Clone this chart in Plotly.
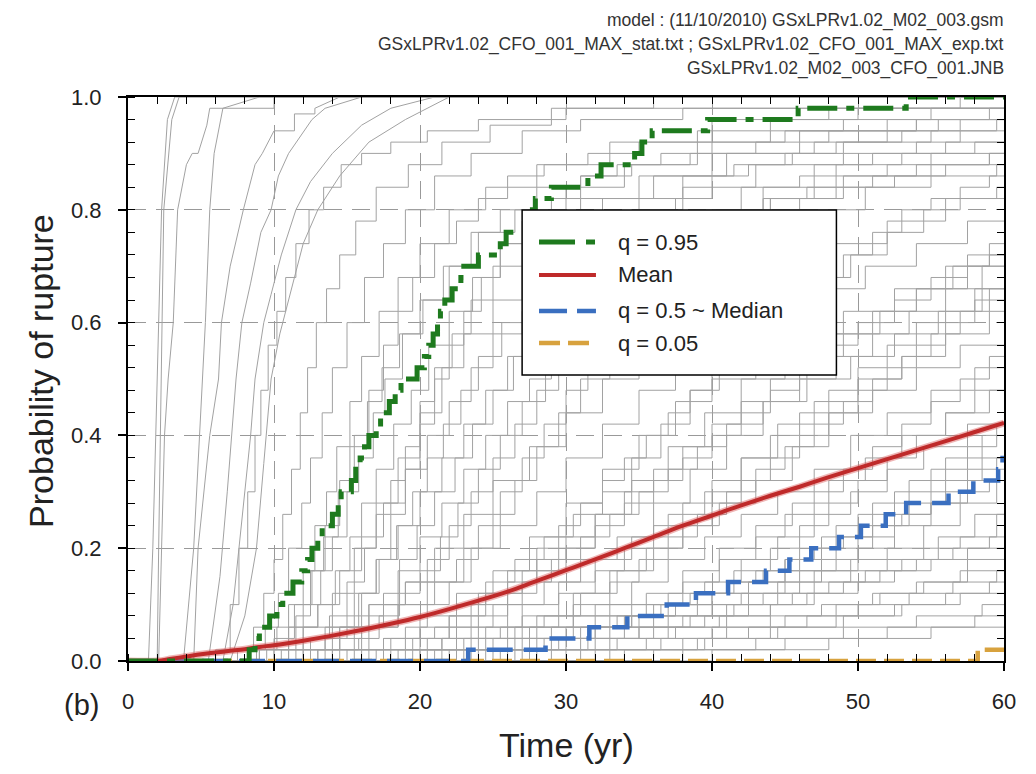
import plotly.graph_objects as go

# ---------------- summary curves ----------------
green_t = [0, 8.3, 8.7, 9.0, 9.7, 10.2, 10.6, 11.3, 11.9, 12.3, 12.6, 13.0, 13.3, 14.0, 14.4, 14.6,
           15.3, 15.6, 15.9, 16.2, 16.5, 17.0, 17.3, 17.9, 18.3, 18.7, 19.8, 20.3, 20.6, 20.9, 21.2,
           21.4, 21.7, 22.2, 22.8, 23.0, 24.0, 25.5, 25.9, 27.5, 27.7, 27.9, 29.0, 31.5, 32.4, 34.7,
           35.2, 35.9, 39.7, 45.9, 53.3, 60]
green_p = [0, 0.02, 0.04, 0.06, 0.08, 0.10, 0.12, 0.14, 0.16, 0.18, 0.20, 0.22, 0.24, 0.26, 0.28, 0.30,
           0.32, 0.34, 0.36, 0.38, 0.40, 0.42, 0.44, 0.46, 0.48, 0.50, 0.52, 0.54, 0.56, 0.58, 0.60,
           0.62, 0.64, 0.66, 0.68, 0.70, 0.72, 0.74, 0.76, 0.78, 0.80, 0.82, 0.84, 0.86, 0.88, 0.90,
           0.92, 0.94, 0.96, 0.98, 1.0, 1.0]

mean_t = [2, 3, 4, 5, 6, 7, 8, 9, 10, 12, 14, 16, 18, 20, 22, 24, 26, 28, 30, 32, 34, 36, 38, 40,
          42, 44, 46, 48, 50, 52, 54, 56, 58, 60]
mean_p = [0, 0.004, 0.008, 0.012, 0.015, 0.018, 0.021, 0.025, 0.028, 0.036, 0.045, 0.055, 0.066,
          0.078, 0.092, 0.107, 0.123, 0.142, 0.161, 0.180, 0.200, 0.220, 0.240, 0.258, 0.276,
          0.293, 0.309, 0.326, 0.342, 0.358, 0.374, 0.390, 0.406, 0.422]

median_t = [0, 23.3, 28.6, 31.6, 34.2, 36.9, 38.9, 41.1, 43.7, 45.3, 46.8, 48.7, 50.2, 51.9, 53.3,
            56.2, 57.9, 59.6, 59.9, 60]
median_p = [0, 0.02, 0.04, 0.06, 0.08, 0.10, 0.12, 0.14, 0.16, 0.18, 0.20, 0.22, 0.24, 0.26, 0.28,
            0.30, 0.32, 0.34, 0.36, 0.36]

q05_t = [0, 58.2, 60]
q05_p = [0, 0.02, 0.02]

# ---------------- individual realisations (grey) ----------------
gray_fast = [
    ([1.4, 1.7, 2.0, 2.3, 2.7, 3.2], [0, 0.2, 0.5, 0.8, 0.96, 1.0]),
    ([2.0, 2.1, 2.25, 2.45, 3.0, 3.5], [0, 0.2, 0.5, 0.8, 0.96, 1.0]),
    ([2.1, 2.3, 2.5, 2.75, 3.1, 3.4, 4.0, 4.4, 4.8, 5.4, 5.6, 10.0, 10.0], [0, 0.2, 0.4, 0.5, 0.6, 0.8, 0.88, 0.9, 0.9, 0.95, 0.98, 0.98, 1.0]),
    ([3.8, 4.5, 4.9, 5.1, 5.3, 5.6, 5.9, 6.5, 9.0], [0, 0.2, 0.4, 0.5, 0.6, 0.8, 0.9, 0.98, 1.0]),
    ([4.5, 4.8, 5.6, 6.2, 6.4, 7.0, 7.9, 8.7, 9.2, 10.0, 11.4, 11.4, 12.8, 12.8, 14.5], [0, 0.2, 0.4, 0.5, 0.6, 0.7, 0.8, 0.88, 0.9, 0.94, 0.94, 0.97, 0.97, 0.98, 1.0]),
    ([5.5, 6.3, 6.8, 7.4, 7.8, 8.4, 9.1, 9.8, 10.3, 11.0, 11.8, 12.6, 13.5, 16.0], [0, 0.15, 0.3, 0.5, 0.6, 0.67, 0.76, 0.8, 0.86, 0.9, 0.93, 0.96, 0.98, 1.0]),
    ([6.5, 7.2, 7.8, 8.4, 8.7, 9.3, 9.8, 10.5, 11.5, 12.5, 14.0, 16.0, 18.0, 21.0], [0, 0.1, 0.25, 0.4, 0.5, 0.6, 0.65, 0.72, 0.8, 0.85, 0.9, 0.95, 0.98, 1.0]),
    ([7.0, 8.0, 8.8, 9.3, 9.8, 10.4, 11.2, 12.0, 13.0, 14.5, 16.5, 19.0, 22.0], [0, 0.08, 0.2, 0.35, 0.5, 0.58, 0.66, 0.74, 0.8, 0.86, 0.92, 0.96, 1.0]),
]

gray_mid = [
    ([7.5, 8.6, 9.3, 10.0, 10.6, 11.2, 11.8, 12.3, 12.9, 13.6, 14.5, 15.6, 17.0, 19.2, 21.5, 24.8, 29.0, 36.0],
     [0.02, 0.06, 0.12, 0.18, 0.26, 0.34, 0.44, 0.52, 0.60, 0.66, 0.72, 0.78, 0.84, 0.88, 0.92, 0.95, 0.98, 1.0]),
    ([8.2, 9.4, 10.3, 11.0, 11.9, 12.5, 13.3, 14.0, 15.0, 16.2, 17.5, 19.0, 21.0, 23.5, 27.0, 31.0, 38.0],
     [0.02, 0.06, 0.12, 0.2, 0.28, 0.36, 0.44, 0.52, 0.60, 0.68, 0.74, 0.8, 0.86, 0.9, 0.94, 0.96, 0.98]),
    ([9.0, 10.2, 11.0, 12.0, 12.8, 13.6, 14.3, 15.2, 16.0, 17.2, 18.5, 20.0, 22.0, 24.5, 28.0, 33.0, 40.0, 48.0],
     [0.02, 0.06, 0.1, 0.16, 0.24, 0.3, 0.38, 0.46, 0.54, 0.62, 0.68, 0.74, 0.8, 0.84, 0.88, 0.92, 0.96, 0.98]),
    ([9.5, 11.0, 12.0, 13.2, 14.0, 15.0, 15.8, 16.8, 17.6, 18.8, 20.2, 22.0, 24.0, 26.5, 30.0, 34.0, 39.0, 45.0, 52.0],
     [0.02, 0.06, 0.1, 0.16, 0.22, 0.3, 0.36, 0.44, 0.5, 0.58, 0.64, 0.7, 0.76, 0.8, 0.84, 0.88, 0.92, 0.94, 0.96]),
    ([10.5, 12.0, 13.0, 14.2, 15.2, 16.0, 17.0, 18.2, 19.4, 20.6, 22.0, 23.6, 25.5, 28.0, 31.0, 35.0, 40.0, 46.0, 54.0],
     [0.02, 0.06, 0.1, 0.16, 0.22, 0.28, 0.34, 0.42, 0.48, 0.56, 0.62, 0.68, 0.74, 0.78, 0.82, 0.86, 0.9, 0.94, 0.96]),
    ([11.0, 12.5, 13.8, 15.0, 16.2, 17.0, 18.0, 19.0, 20.0, 21.0, 22.2, 23.5, 25.0, 27.0, 29.5, 32.5, 36.0, 41.0, 47.0, 55.0],
     [0.02, 0.04, 0.08, 0.14, 0.2, 0.26, 0.32, 0.38, 0.46, 0.52, 0.58, 0.64, 0.7, 0.74, 0.78, 0.82, 0.86, 0.9, 0.92, 0.94]),
    ([12.0, 13.5, 15.0, 16.0, 17.2, 18.4, 19.5, 20.5, 21.6, 22.8, 24.0, 25.6, 27.2, 29.0, 31.5, 34.5, 38.0, 43.0, 49.0, 56.0],
     [0.02, 0.04, 0.08, 0.12, 0.18, 0.24, 0.3, 0.36, 0.42, 0.48, 0.54, 0.6, 0.66, 0.7, 0.74, 0.8, 0.84, 0.88, 0.9, 0.92]),
    ([12.5, 14.5, 16.0, 17.5, 18.6, 19.8, 21.0, 22.4, 23.6, 25.0, 26.4, 28.0, 30.0, 32.5, 35.0, 38.5, 42.0, 47.0, 53.0],
     [0.02, 0.04, 0.08, 0.12, 0.18, 0.24, 0.3, 0.36, 0.42, 0.48, 0.54, 0.6, 0.66, 0.72, 0.76, 0.8, 0.84, 0.88, 0.9]),
    ([14.0, 15.8, 17.2, 18.6, 20.0, 21.4, 22.6, 24.0, 25.5, 27.0, 28.6, 30.4, 32.4, 34.8, 37.5, 40.5, 44.0, 48.5, 54.0, 59.0],
     [0.02, 0.04, 0.08, 0.12, 0.16, 0.22, 0.28, 0.34, 0.4, 0.46, 0.52, 0.58, 0.64, 0.7, 0.74, 0.78, 0.82, 0.86, 0.88, 0.9]),
    ([6.0, 7.0, 7.6, 8.2, 8.7, 9.1, 9.6, 10.2, 10.8, 11.5, 12.4, 13.4, 14.6, 16.0, 18.0, 20.5, 24.0, 30.0],
     [0.02, 0.1, 0.2, 0.3, 0.4, 0.48, 0.56, 0.62, 0.68, 0.74, 0.8, 0.84, 0.88, 0.9, 0.92, 0.94, 0.96, 0.98]),
    ([15.5, 17.5, 19.0, 20.5, 22.0, 23.5, 25.0, 26.5, 28.0, 29.5, 31.0, 33.0, 35.0, 37.5, 40.0, 43.0, 46.5, 50.5, 55.0, 59.5],
     [0.02, 0.04, 0.06, 0.1, 0.14, 0.2, 0.26, 0.32, 0.38, 0.44, 0.5, 0.56, 0.62, 0.68, 0.72, 0.76, 0.8, 0.84, 0.86, 0.88]),
    ([8.8, 10.0, 11.4, 12.6, 13.4, 14.4, 15.2, 16.4, 17.4, 18.6, 20.0, 21.6, 23.5, 25.5, 28.0, 31.0, 34.5, 38.5, 43.0, 48.0, 54.0],
     [0.02, 0.04, 0.1, 0.16, 0.22, 0.3, 0.38, 0.46, 0.52, 0.58, 0.64, 0.7, 0.76, 0.8, 0.84, 0.86, 0.88, 0.9, 0.92, 0.94, 0.96]),
    ([10, 11.5, 12.5, 13.5, 14.5, 15.5, 16.5, 17.5, 18.5, 19.5, 21, 22.5, 24, 26, 28.5, 31.5, 35, 39, 44, 50, 57],
     [.02, .08, .16, .24, .32, .4, .48, .56, .62, .68, .74, .78, .82, .86, .88, .9, .92, .94, .96, .98, 1.0]),
    ([13, 14.5, 15.8, 17, 18, 19, 20, 21, 22, 23, 24.2, 25.5, 27, 29, 31, 33.5, 36.5, 40, 44, 49, 55],
     [.02, .06, .12, .18, .26, .34, .42, .5, .56, .62, .68, .74, .78, .82, .86, .88, .9, .92, .94, .96, .98]),
]

gray_slow = [
    ([11, 14, 16.5, 19, 21, 23, 25, 27.5, 30, 32.5, 35, 38, 41, 44.5, 48, 52, 56],
     [.02, .06, .1, .14, .2, .26, .32, .38, .44, .5, .56, .62, .66, .7, .74, .78, .82]),
    ([13, 16, 18.5, 21, 23, 25.5, 28, 30, 32.5, 35, 37.5, 40.5, 43.5, 47, 50.5, 54, 57.5],
     [.02, .06, .1, .14, .2, .24, .3, .36, .42, .48, .54, .58, .62, .66, .7, .74, .78]),
    ([14.5, 17.5, 20, 22.5, 25, 27.5, 30, 32.5, 35, 37.5, 40, 43, 46, 49, 52.5, 56, 59],
     [.02, .04, .08, .12, .16, .22, .28, .34, .4, .46, .5, .54, .58, .62, .66, .7, .74]),
    ([16, 19, 22, 24.5, 27, 29.5, 32, 34.5, 37, 39.5, 42, 45, 48, 51, 54, 57.5],
     [.02, .04, .08, .12, .16, .2, .26, .32, .38, .44, .5, .54, .58, .62, .66, .7]),
    ([17, 20.5, 23.5, 26, 28.5, 31, 33.5, 36, 38.5, 41, 43.5, 46.5, 49.5, 52.5, 55.5, 58.5],
     [.02, .04, .06, .1, .14, .18, .22, .28, .34, .4, .46, .5, .54, .58, .62, .66]),
    ([18, 21.5, 24.5, 27, 29.5, 32, 34.5, 37, 39.5, 42, 44.5, 47, 50, 53, 56, 59],
     [.02, .04, .06, .1, .14, .18, .22, .26, .3, .36, .42, .46, .5, .54, .58, .62]),
    ([19, 22.5, 25.5, 28, 30.5, 33, 35.5, 38, 40.5, 43, 45.5, 48, 51, 54, 57],
     [.02, .04, .06, .08, .12, .16, .2, .24, .28, .32, .38, .44, .48, .52, .56]),
    ([20, 23.5, 26.5, 29.5, 32, 34.5, 37, 39.5, 42, 44.5, 47, 49.5, 52, 55, 58],
     [.02, .04, .06, .08, .1, .14, .18, .22, .26, .3, .34, .4, .44, .48, .52]),
    ([21, 24.5, 27.5, 30.5, 33, 35.5, 38, 40.5, 43, 45.5, 48, 50.5, 53, 56, 59],
     [.02, .04, .06, .08, .1, .12, .16, .2, .24, .28, .32, .36, .4, .44, .48]),
    ([22, 26, 29, 32, 34.5, 37, 39.5, 42, 44.5, 47, 49.5, 52, 54.5, 57.5],
     [.02, .04, .06, .08, .1, .12, .14, .18, .22, .26, .3, .34, .38, .42]),
    ([23, 27, 30.5, 33.5, 36, 38.5, 41, 43.5, 46, 48.5, 51, 53.5, 56, 58.5],
     [.02, .04, .06, .08, .1, .12, .14, .16, .2, .24, .28, .32, .36, .4]),
    ([24, 28, 31.5, 34.5, 37.5, 40, 42.5, 45, 47.5, 50, 52.5, 55, 57.5],
     [.02, .04, .06, .08, .1, .12, .14, .16, .18, .22, .26, .3, .34]),
    ([25, 29.5, 33, 36, 39, 42, 44.5, 47, 49.5, 52, 54.5, 57, 59.5],
     [.02, .04, .06, .08, .1, .12, .14, .16, .18, .2, .24, .28, .32]),
    ([26.5, 31, 35, 38.5, 41.5, 44.5, 47, 49.5, 52, 54.5, 57, 59.5],
     [.02, .04, .06, .08, .1, .12, .14, .16, .18, .2, .22, .26]),
    ([28, 33, 37, 40.5, 44, 47, 50, 52.5, 55, 57.5],
     [.02, .04, .06, .08, .1, .12, .14, .16, .18, .2]),
    ([30, 35.5, 40, 44, 47.5, 51, 54, 57],
     [.02, .04, .06, .08, .1, .12, .14, .16]),
    ([33, 39, 44, 48.5, 52.5, 56, 59],
     [.02, .04, .06, .08, .1, .12, .14]),
    ([36, 43, 49, 54, 58.5],
     [.02, .04, .06, .08, .1]),
    ([40, 48, 55],
     [.02, .04, .06]),
    ([12, 14.5, 16.5, 18.5, 20, 21.5, 23, 24.5, 26, 27.5, 29, 30.5, 32, 34, 36, 38, 40.5, 43, 46, 49, 52.5, 56],
     [.02, .06, .1, .16, .22, .28, .34, .4, .46, .5, .54, .58, .62, .66, .7, .74, .78, .8, .82, .84, .86, .88]),
    ([9, 11, 13, 14.5, 16, 17.5, 19, 20.5, 22, 23.5, 25, 27, 29, 31.5, 34, 37, 40, 43.5, 47, 51, 55, 59],
     [.02, .06, .1, .16, .22, .28, .34, .4, .46, .52, .58, .62, .66, .7, .74, .78, .8, .82, .84, .86, .88, .9]),
    ([15, 18, 21, 23.5, 26, 28, 30, 32, 34, 36, 38, 40, 42, 44, 46.5, 49, 51.5, 54, 56.5, 59],
     [.02, .04, .06, .1, .14, .18, .22, .26, .3, .34, .38, .42, .46, .5, .54, .58, .62, .66, .7, .72]),
    ([19.5, 23, 26, 28.5, 31, 33.5, 36, 38, 40, 42, 44, 46, 48, 50, 52, 54, 56, 58],
     [.02, .04, .06, .08, .12, .16, .2, .24, .28, .32, .36, .4, .44, .48, .52, .56, .6, .64]),
    ([22.5, 26.5, 30, 33, 35.5, 38, 40.5, 43, 45, 47, 49, 51, 53, 55, 57, 59],
     [.02, .04, .06, .08, .1, .14, .18, .22, .26, .3, .34, .38, .42, .46, .5, .54]),
    ([27, 31.5, 35, 38, 41, 43.5, 46, 48.5, 51, 53.5, 56, 58.5],
     [.02, .04, .06, .08, .1, .12, .16, .2, .24, .28, .32, .36]),
    ([31, 36.5, 41, 45, 48.5, 51.5, 54.5, 57.5],
     [.02, .04, .06, .08, .1, .12, .14, .18]),
    ([17.5, 20, 22.5, 24.5, 26.5, 28.5, 30.5, 32.5, 34.5, 36.5, 38.5, 40.5, 42.5, 44.5, 47, 49.5, 52, 54.5, 57, 59.5],
     [.02, .06, .1, .14, .18, .22, .26, .3, .36, .42, .48, .54, .6, .64, .68, .72, .76, .8, .82, .84]),
    ([20.5, 24, 27, 29.5, 32, 34, 36, 38, 40, 42, 44, 46, 48, 50, 52, 54, 56, 58],
     [.02, .04, .08, .12, .16, .2, .24, .28, .32, .36, .4, .44, .48, .52, .56, .6, .62, .66]),
    ([24.5, 28.5, 32, 35, 37.5, 40, 42.5, 45, 47.5, 50, 52.5, 55, 57.5, 59.5],
     [.02, .04, .06, .08, .1, .12, .14, .18, .22, .26, .3, .34, .38, .42]),
    ([13.5, 15.5, 17.5, 19, 20.5, 22, 23.5, 25, 26.5, 28, 29.5, 31, 33, 35, 37, 39, 41, 43.5, 46, 48.5, 51, 54, 57, 59.5],
     [.02, .06, .1, .14, .18, .24, .3, .36, .42, .48, .54, .6, .64, .68, .72, .76, .8, .84, .86, .88, .9, .92, .94, .96]),
    ([26, 29, 32, 34.5, 37, 39, 41, 43, 45, 47, 49, 51, 53, 55, 57, 59],
     [.02, .04, .06, .08, .1, .12, .14, .16, .18, .2, .22, .24, .26, .28, .3, .32]),
    ([29, 33.5, 37.5, 41, 44, 46.5, 49, 51.5, 54, 56.5, 59],
     [.02, .04, .06, .08, .1, .12, .14, .16, .18, .2, .22]),
    ([34, 39.5, 44.5, 49, 53, 57],
     [.02, .04, .06, .08, .1, .12]),
    ([38, 45, 52, 58],
     [.02, .04, .06, .08]),
    ([16.5, 19.5, 22, 24, 26, 28, 29.5, 31, 32.5, 34, 35.5, 37, 38.5, 40, 41.5, 43, 45, 47, 49, 51, 53, 55, 57, 59],
     [.02, .04, .08, .12, .16, .2, .24, .28, .32, .36, .4, .44, .48, .52, .56, .6, .64, .68, .72, .76, .8, .82, .84, .86]),
    ([21.5, 25, 28, 30.5, 33, 35, 37, 39, 41, 43, 45, 47, 49, 51, 53, 55, 57, 59],
     [.02, .04, .06, .1, .14, .18, .22, .26, .3, .34, .38, .42, .46, .5, .54, .58, .62, .66]),
    ([23.5, 27.5, 31, 34, 36.5, 39, 41.5, 44, 46, 48, 50, 52, 54, 56, 58],
     [.02, .04, .06, .08, .1, .12, .16, .2, .24, .28, .32, .36, .4, .44, .48]),
    ([25.5, 30, 34, 37, 40, 42.5, 45, 47.5, 50, 52.5, 55, 57.5, 59.5],
     [.02, .04, .06, .08, .1, .12, .14, .16, .2, .24, .28, .32, .36]),
    ([11.5, 13.5, 15.5, 17, 18.5, 20, 21.5, 23, 24.5, 26, 27.5, 29, 31, 33, 35, 37.5, 40, 42.5, 45.5, 48.5, 52, 55.5, 59],
     [.02, .06, .12, .18, .24, .3, .36, .42, .48, .54, .6, .66, .7, .74, .78, .82, .86, .88, .9, .92, .94, .96, .98]),
    ([10, 12, 14, 15.5, 17, 18.5, 20, 21.5, 23, 25, 27, 29.5, 32, 35, 38, 41.5, 45, 49, 53, 57],
     [.02, .06, .12, .2, .28, .36, .44, .52, .58, .64, .7, .74, .78, .82, .86, .88, .9, .92, .94, .96]),
    ([18.5, 21.5, 24, 26, 28, 30, 32, 34, 36, 38, 40, 42, 44, 46, 48, 50, 52.5, 55, 57.5],
     [.02, .04, .08, .12, .16, .2, .24, .28, .32, .36, .4, .44, .48, .52, .56, .6, .64, .68, .72]),
    ([27.5, 32, 36, 39.5, 42.5, 45.5, 48, 50.5, 53, 55.5, 58],
     [.02, .04, .06, .08, .1, .12, .14, .16, .18, .22, .26]),
    ([32, 38, 42.5, 46.5, 50, 53.5, 56.5, 59.5],
     [.02, .04, .06, .08, .1, .12, .14, .16]),
    ([14, 16.5, 18.5, 20.5, 22.5, 24, 25.5, 27, 28.5, 30, 31.5, 33, 34.5, 36, 38, 40, 42, 44, 46.5, 49, 52, 55, 58],
     [.02, .06, .1, .14, .18, .24, .3, .36, .42, .48, .54, .58, .62, .66, .7, .74, .78, .82, .84, .86, .88, .9, .92]),
    ([20, 22.5, 25, 27, 29, 31, 33, 35, 37, 39, 41, 43.5, 46, 48.5, 51, 53.5, 56, 58.5],
     [.02, .06, .1, .14, .18, .22, .26, .3, .34, .38, .42, .46, .5, .54, .58, .62, .66, .7]),
]

legend_labels = ["q = 0.95", "Mean", "q = 0.5 ~ Median", "q = 0.05"]
header_lines = ["model : (11/10/2010) GSxLPRv1.02_M02_003.gsm",
                "GSxLPRv1.02_CFO_001_MAX_stat.txt ; GSxLPRv1.02_CFO_001_MAX_exp.txt",
                "GSxLPRv1.02_M02_003_CFO_001.JNB"]

# ---------------- styles ----------------
FONT = "Liberation Sans, Arial, sans-serif"
GRAY = "#a2a2a2"
C_GREEN = "#1e7a1e"
C_RED = "#bf2a2a"
C_BLUE = "#3a6fc0"
C_ORANGE = "#d8a23e"
D_GREEN = "30px,9px,8px,9px"
D_BLUE = "26px,11px"
D_ORANGE = "20px,8px"

fig = go.Figure()


def add_gray(t, p, shape):
    fig.add_trace(go.Scatter(x=[0] + list(t) + [60], y=[0] + list(p) + [p[-1]], mode="lines",
                             line=dict(color=GRAY, width=1, shape=shape),
                             hoverinfo="skip", showlegend=False))


for t, p in gray_fast:
    add_gray(t, p, "linear")
for t, p in gray_mid:
    add_gray(t, p, "hv")
for t, p in gray_slow:
    add_gray(t, p, "hv")

fig.add_trace(go.Scatter(x=q05_t, y=q05_p, mode="lines", cliponaxis=False,
                         line=dict(color=C_ORANGE, width=4.5, dash=D_ORANGE, shape="hv"), showlegend=False))
fig.add_trace(go.Scatter(x=median_t, y=median_p, mode="lines", cliponaxis=False,
                         line=dict(color=C_BLUE, width=4.5, dash=D_BLUE, shape="hv"), showlegend=False))
fig.add_trace(go.Scatter(x=[0] + mean_t, y=[0] + mean_p, mode="lines", cliponaxis=False,
                         line=dict(color="rgba(220,90,90,0.45)", width=7, shape="spline"), showlegend=False))
fig.add_trace(go.Scatter(x=[0] + mean_t, y=[0] + mean_p, mode="lines", cliponaxis=False,
                         line=dict(color=C_RED, width=4, shape="spline"), showlegend=False))
fig.add_trace(go.Scatter(x=green_t, y=green_p, mode="lines", cliponaxis=False,
                         line=dict(color=C_GREEN, width=5, dash=D_GREEN, shape="hv"), showlegend=False))
# invisible trace to carry the mirrored (top / right) tick axes
fig.add_trace(go.Scatter(x=[0], y=[0], xaxis="x2", yaxis="y2", mode="markers",
                         marker=dict(opacity=0), hoverinfo="skip", showlegend=False))

grid = dict(showgrid=True, gridcolor="#999999", gridwidth=1, griddash="18px,10px")
# the page body has an 8px margin, so the figure is 16px smaller than the window
fig.update_layout(
    width=1020, height=758,
    margin=dict(l=120, r=22, t=89, b=105),
    plot_bgcolor="white", paper_bgcolor="white",
    font=dict(family=FONT, color="#222"),
    showlegend=False,
    xaxis=dict(range=[0, 60], tick0=0, dtick=10, ticks="outside", ticklen=8, tickwidth=1.5,
               tickcolor="black", showline=True, linewidth=2, linecolor="black", mirror=True,
               zeroline=False, tickfont=dict(size=22, color="#222"), ticklabelstandoff=12,
               minor=dict(dtick=2, ticks="inside", ticklen=7, tickwidth=1.3, tickcolor="black",
                          showgrid=False), **grid),
    yaxis=dict(range=[0, 1], tick0=0, dtick=0.2, tickformat=".1f", ticks="outside", ticklen=8,
               tickwidth=1.5, tickcolor="black", showline=True, linewidth=2, linecolor="black",
               mirror=True, zeroline=False, tickfont=dict(size=22, color="#222"),
               ticklabelstandoff=12,
               minor=dict(dtick=0.04, ticks="inside", ticklen=7, tickwidth=1.3, tickcolor="black",
                          showgrid=False), **grid),
    xaxis2=dict(overlaying="x", side="top", anchor="y", range=[0, 60], tick0=0, dtick=10,
                ticks="inside", ticklen=7, tickwidth=1.3, tickcolor="black", showticklabels=False,
                showgrid=False, zeroline=False, showline=False,
                minor=dict(dtick=2, ticks="inside", ticklen=7, tickwidth=1.3, tickcolor="black")),
    yaxis2=dict(overlaying="y", side="right", anchor="x", range=[0, 1], tick0=0, dtick=0.2,
                ticks="inside", ticklen=7, tickwidth=1.3, tickcolor="black", showticklabels=False,
                showgrid=False, zeroline=False, showline=False,
                minor=dict(dtick=0.04, ticks="inside", ticklen=7, tickwidth=1.3, tickcolor="black")),
)

# ---------------- manual legend ----------------
shapes = [dict(type="rect", xref="paper", yref="paper", x0=0.4499, x1=0.8087, y0=0.5071, y1=0.7996,
               line=dict(color="black", width=1.5), fillcolor="white", layer="above")]
leg_y = [0.7429, 0.6844, 0.6206, 0.5638]
leg_style = [(C_GREEN, 5, "36px,11px,9px,11px"), (C_RED, 4, "solid"), (C_BLUE, 4.5, "28px,10px"),
             (C_ORANGE, 4.5, "21px,8px")]
annotations = []
for lab, yy, (col, w, d) in zip(legend_labels, leg_y, leg_style):
    shapes.append(dict(type="line", xref="paper", yref="paper", x0=0.4692, x1=0.5342, y0=yy, y1=yy,
                       line=dict(color=col, width=w, dash=d), layer="above"))
    annotations.append(dict(xref="paper", yref="paper", x=0.5570, y=yy, text=lab, showarrow=False,
                            xanchor="left", yanchor="middle", font=dict(size=22, color="#222")))

# header lines
for txt, yy in zip(header_lines, [1.1365, 1.0930, 1.0505]):
    annotations.append(dict(xref="paper", yref="paper", x=1.0025, y=yy, text=txt, showarrow=False,
                            xanchor="right", yanchor="middle", font=dict(size=17.5, color="#333")))

# axis titles and panel tag
annotations.append(dict(xref="paper", yref="paper", x=-0.100, y=0.515, text="Probability of rupture",
                        textangle=-90, showarrow=False, xanchor="center", yanchor="middle",
                        font=dict(size=34, color="#222")))
annotations.append(dict(xref="paper", yref="paper", x=0.5, y=-0.149, text="Time (yr)",
                        showarrow=False, xanchor="center", yanchor="middle",
                        font=dict(size=34, color="#222")))
annotations.append(dict(xref="paper", yref="paper", x=-0.0535, y=-0.078, text="(b)",
                        showarrow=False, xanchor="center", yanchor="middle",
                        font=dict(size=29, color="#222")))

fig.update_layout(shapes=shapes, annotations=annotations)
fig.write_html("out.html")
